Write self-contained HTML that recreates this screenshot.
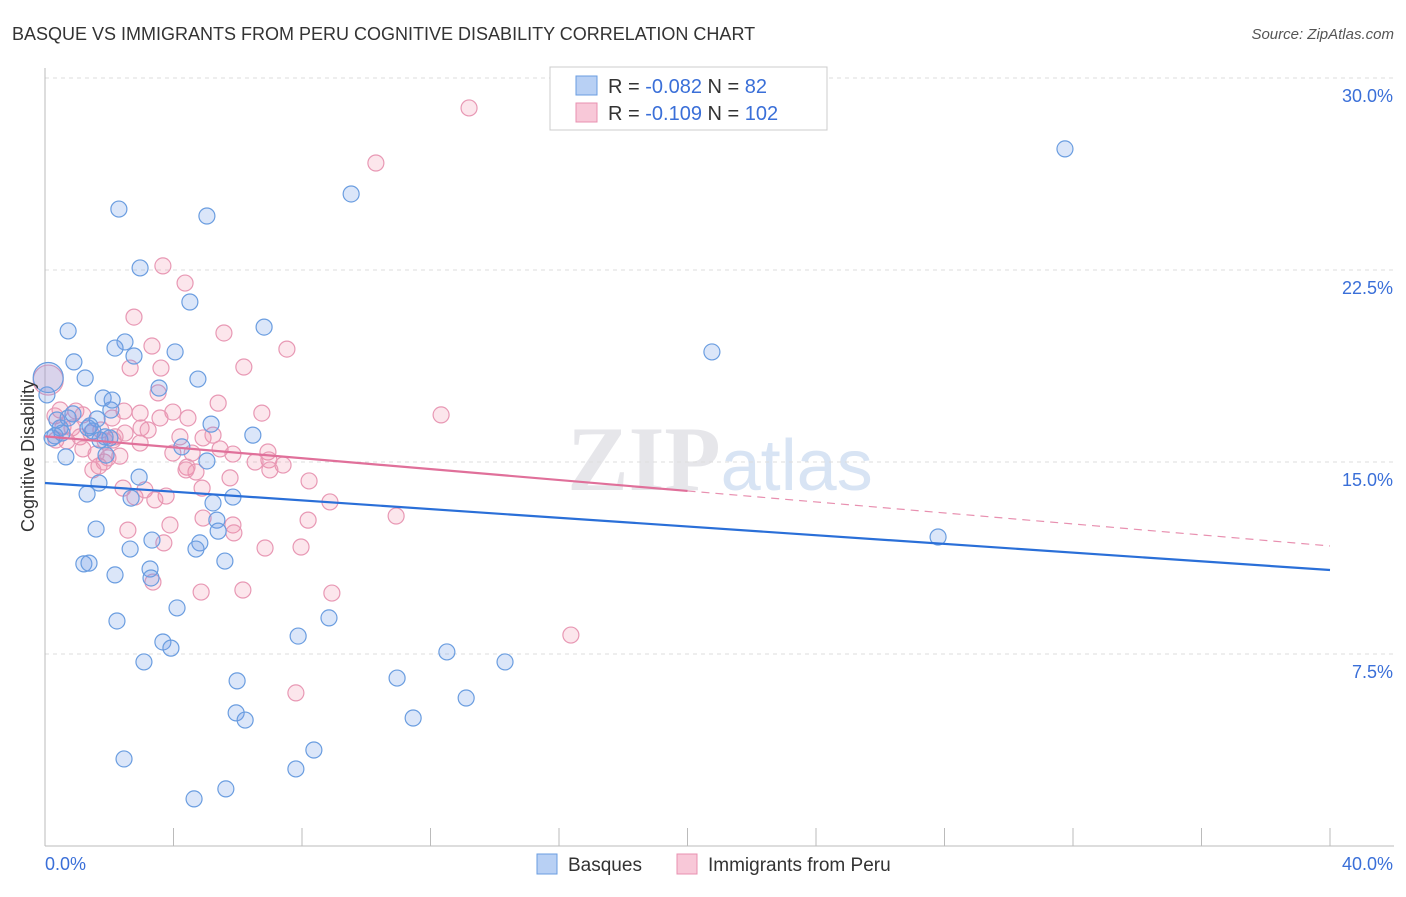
<!DOCTYPE html>
<html><head><meta charset="utf-8"><style>
body{margin:0;background:#fff;font-family:"Liberation Sans",sans-serif;}
svg text{font-family:"Liberation Sans",sans-serif;}
</style></head><body>
<svg id="chart" width="1406" height="892" xmlns="http://www.w3.org/2000/svg">
<text x="12" y="40" font-size="18" fill="#333">BASQUE VS IMMIGRANTS FROM PERU COGNITIVE DISABILITY CORRELATION CHART</text>
<text x="1394" y="39" font-size="15" fill="#555" text-anchor="end" font-style="italic">Source: ZipAtlas.com</text>
<text x="720" y="490" font-size="92" text-anchor="middle" fill="#e6e6ea"><tspan font-family="Liberation Serif" font-weight="bold">ZIP</tspan><tspan fill="#d8e4f4" font-size="72">atlas</tspan></text>
<g id="grid"></g>
<g id="axes"></g>
<g id="pts"></g>
<g id="trends"></g>
<text transform="translate(34,456) rotate(-90)" font-size="18" fill="#333" text-anchor="middle">Cognitive Disability</text>
<g>
<rect x="550" y="67" width="277" height="63" fill="#fff" stroke="#ccc"/>
<rect x="576" y="76" width="21" height="19" fill="#b8d0f4" stroke="#6a9de0"/>
<rect x="576" y="103" width="21" height="19" fill="#f8c8d8" stroke="#e890b0"/>
<text x="608" y="93" font-size="20" fill="#333">R = <tspan fill="#3a6fd8">-0.082</tspan>   N =  <tspan fill="#3a6fd8"> 82</tspan></text>
<text x="608" y="120" font-size="20" fill="#333">R =  <tspan fill="#3a6fd8">-0.109</tspan>   N = <tspan fill="#3a6fd8">102</tspan></text>
</g>
<g>
<rect x="537" y="854" width="20" height="20" fill="#b8d0f4" stroke="#6a9de0"/>
<text x="568" y="871" font-size="19" fill="#333">Basques</text>
<rect x="677" y="854" width="20" height="20" fill="#f8c8d8" stroke="#e890b0"/>
<text x="708" y="871" font-size="19" fill="#333">Immigrants from Peru</text>
</g>
</svg>
<script>
const xTicks=[0,40];
const yTicks=[7.5,15,22.5,30];
const yTickLabels=["7.5%","15.0%","22.5%","30.0%"];
const blueX=[31.75,9.53,2.30,5.04,2.96,4.51,6.82,0.72,2.49,2.18,4.05,2.77,0.90,20.76,1.25,4.76,3.55,1.81,2.05,1.62,5.17,0.87,0.47,1.34,1.49,0.31,0.53,6.47,2.02,4.26,1.90,0.65,5.04,2.93,1.68,1.31,2.68,5.85,5.23,5.35,1.59,5.39,27.80,3.33,4.82,2.65,4.70,1.21,1.37,5.60,2.18,3.27,3.30,4.11,2.24,8.84,7.88,3.67,3.92,12.51,14.32,3.08,5.98,10.96,13.11,5.95,6.23,11.46,8.37,2.46,7.81,5.63,4.64,0.22,0.37,0.72,1.40,1.71,1.87,0.06,2.09,0.1];
const blueY=[27.23,25.47,24.88,24.61,22.58,21.25,20.27,20.12,19.69,19.45,19.30,19.14,18.91,19.30,18.28,18.24,17.89,17.50,17.03,16.68,16.48,16.88,16.33,16.33,16.21,16.02,16.13,16.05,15.94,15.59,15.27,15.20,15.04,14.41,14.18,13.75,13.59,13.63,13.40,12.73,12.38,12.30,12.07,11.95,11.84,11.60,11.60,11.02,11.05,11.13,10.59,10.82,10.47,9.30,8.79,8.91,8.20,7.97,7.73,7.58,7.19,7.19,6.45,6.56,5.78,5.20,4.92,5.00,3.75,3.40,3.01,2.23,1.84,15.94,16.64,16.72,16.41,15.86,15.98,17.62,17.42,18.3];
const pinkX=[13.20,10.30,3.67,4.36,2.77,5.57,3.33,7.53,2.65,6.19,3.61,3.52,12.33,5.39,6.75,0.47,0.96,1.18,2.46,2.96,3.98,4.45,2.09,2.99,3.21,1.74,1.43,2.49,4.92,4.20,5.23,0.34,0.68,1.09,1.87,2.18,1.18,2.33,3.98,5.45,5.85,6.94,6.97,7.41,1.68,1.84,1.49,5.76,8.22,2.43,3.11,2.80,3.77,3.42,4.89,6.54,4.42,4.70,8.87,10.93,4.92,5.85,3.89,2.58,5.88,8.19,3.70,6.85,7.97,4.86,6.16,8.93,3.36,16.37,7.81,7.00,0.31,0.56,0.84,1.59,1.96,4.58,4.39,2.12,2.96,3.58,0.1];
const pinkY=[28.83,26.68,22.66,21.99,20.66,20.04,19.53,19.41,18.67,18.71,18.67,17.70,16.84,17.30,16.91,17.03,16.99,16.84,16.99,16.91,16.95,16.72,16.72,16.33,16.25,16.25,16.13,16.13,15.94,15.98,16.05,15.86,15.82,15.98,15.82,15.98,15.51,15.23,15.35,15.51,15.31,15.39,15.08,14.88,14.84,15.00,14.69,14.38,14.26,13.98,13.91,13.63,13.67,13.52,13.98,15.00,14.80,14.61,13.44,12.89,12.81,12.54,12.54,12.34,12.23,12.73,11.84,11.64,11.68,9.92,10.00,9.88,10.31,8.24,5.98,14.69,16.80,16.37,16.33,15.31,15.16,15.35,14.69,15.86,15.74,16.72,18.2];
const blueTrend=[14.18,10.78];
const pinkTrend=[16.0,13.87,11.72];
const NS="http://www.w3.org/2000/svg";
const sx=v=>45+v*32.125, sy=v=>846-v*25.6;
function mk(tag,attrs,parent){const e=document.createElementNS(NS,tag);for(const k in attrs)e.setAttribute(k,attrs[k]);parent.appendChild(e);return e;}
const grid=document.getElementById('grid'),axes=document.getElementById('axes'),pts=document.getElementById('pts'),tr=document.getElementById('trends');
yTicks.forEach((t,i)=>{
 const l=mk('line',{x1:45,x2:1394,y1:sy(t),y2:sy(t),stroke:'#ddd','stroke-dasharray':'4,4'},grid);
 
 
 const tx=mk('text',{x:1393,y:sy(t)+24,'font-size':18,fill:'#3a6fd8','text-anchor':'end'},axes);
 tx.textContent=yTickLabels[i];
 
 
});
mk('line',{x1:45,x2:45,y1:68,y2:846,stroke:'#bbb'},axes);
mk('line',{x1:45,x2:1394,y1:846,y2:846,stroke:'#bbb'},axes);
for(let i=0;i<=10;i++){const x=sx(i*4);const t=mk('line',{x1:x,x2:x,y1:828,y2:846,stroke:'#bbb'},axes);
 
 }
const xl0=mk('text',{x:45,y:870,'font-size':18,fill:'#3a6fd8'},axes);xl0.textContent=xTicks[0].toFixed(1)+'%';


const xl1=mk('text',{x:1393,y:870,'font-size':18,fill:'#3a6fd8','text-anchor':'end'},axes);xl1.textContent=xTicks[1].toFixed(1)+'%';


function draw(X,Y,fill,stroke,name){X.forEach((x,i)=>{const big=i===X.length-1;
 const c=mk('circle',{cx:sx(x),cy:sy(Y[i]),r:big?15:8,fill:fill,stroke:stroke,'stroke-width':1.2},pts);
 
 });}
draw(pinkX,pinkY,'rgba(240,140,170,0.22)','#e898b4','point-peru');
draw(blueX,blueY,'rgba(110,155,230,0.25)','#6a9de0','point-basques');
const bl=mk('line',{x1:sx(0),y1:sy(blueTrend[0]),x2:sx(40),y2:sy(blueTrend[1]),stroke:'#2a6fd8','stroke-width':2.2},tr);


const pl=mk('line',{x1:sx(0),y1:sy(pinkTrend[0]),x2:sx(20),y2:sy(pinkTrend[1]),stroke:'#e0709a','stroke-width':2.2},tr);


const pd=mk('line',{x1:sx(20),y1:sy(pinkTrend[1]),x2:sx(40),y2:sy(pinkTrend[2]),stroke:'#e890b0','stroke-width':1.2,'stroke-dasharray':'8,6'},tr);


</script>
</body></html>
